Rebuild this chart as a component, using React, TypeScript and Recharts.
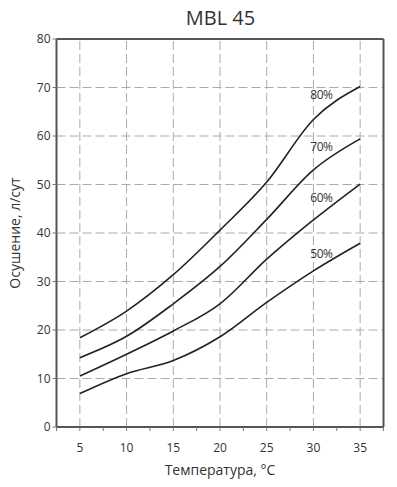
import { CartesianGrid, LabelList, Line, LineChart, ReferenceLine, XAxis, YAxis } from 'recharts'

const temps = [5, 10, 15, 20, 25, 30, 35]
const rh80 = [18.4, 23.9, 31.4, 40.6, 50.5, 63.4, 70.2]
const rh70 = [14.3, 18.7, 25.4, 33.1, 42.8, 53.0, 59.4]
const rh60 = [10.5, 15.0, 19.8, 25.4, 34.6, 42.7, 50.1]
const rh50 = [6.9, 11.0, 13.7, 18.6, 25.7, 32.2, 37.9]

const xTicks = [2.5, 5, 7.5, 10, 12.5, 15, 17.5, 20, 22.5, 25, 27.5, 30, 32.5, 35, 37.5]
const xMajor = [5, 10, 15, 20, 25, 30, 35]
const yTicks = [0, 10, 20, 30, 40, 50, 60, 70, 80]

const data = temps.map((t, i) => ({ t, rh80: rh80[i], rh70: rh70[i], rh60: rh60[i], rh50: rh50[i] }))

const series = [
  { key: 'rh80', label: '80%', dy: -25 },
  { key: 'rh70', label: '70%', dy: -23 },
  { key: 'rh60', label: '60%', dy: -22 },
  { key: 'rh50', label: '50%', dy: -17 },
]

const font = '"Open Sans", "Noto Sans", sans-serif'
const ink = '#333'
const gridColor = '#aaa'

function XTick({ x, y, payload }: any) {
  if (payload.value % 5 !== 0) return null
  return (
    <text x={x} y={y} dy="0.71em" textAnchor="middle" fontSize={12} fill={ink} fontFamily={font}>
      {payload.value}
    </text>
  )
}

function curveLabel(text: string, dy: number) {
  return (props: any) => {
    if (props.index !== 5) return null
    return (
      <text x={props.x + 8} y={props.y + dy} textAnchor="middle" dominantBaseline="central"
        fontSize={12} fill={ink} fontFamily={font} letterSpacing={-0.5}>
        {text}
      </text>
    )
  }
}

export default function App() {
  return (
    <div style={{ position: 'absolute', left: 0, top: 0, width: 397, height: 487, background: '#fff' }}>
      <div style={{ position: 'absolute', left: 0, top: 4, width: 441, textAlign: 'center', fontFamily: font, fontSize: 20, color: ink }}>
        MBL 45
      </div>
      <LineChart width={397} height={487} data={data} margin={{ top: 39, right: 13.5, bottom: 0, left: 0 }}>
        <CartesianGrid vertical={false} stroke={gridColor} strokeDasharray="9 4" />
        {xMajor.map((v) => (
          <ReferenceLine key={v} x={v} stroke={gridColor} strokeDasharray="9 4" />
        ))}
        <ReferenceLine y={80} stroke="#555" strokeWidth={2} />
        <ReferenceLine x={37.5} stroke="#555" strokeWidth={2} />
        <XAxis
          dataKey="t"
          type="number"
          domain={[2.5, 37.5]}
          ticks={xTicks}
          interval={0}
          height={60}
          tickSize={4}
          tickMargin={12}
          tick={<XTick />}
          axisLine={{ stroke: '#555', strokeWidth: 2 }}
          tickLine={{ stroke: '#777' }}
          label={{ value: 'Температура, °C', position: 'insideBottom', offset: 12, fill: ink, fontSize: 14, fontFamily: font }}
        />
        <YAxis
          type="number"
          domain={[0, 80]}
          ticks={yTicks}
          interval={0}
          width={56.5}
          tickSize={4}
          tickMargin={2}
          tick={{ fill: ink, fontSize: 12, fontFamily: font }}
          axisLine={{ stroke: '#555', strokeWidth: 2 }}
          tickLine={{ stroke: '#777' }}
          label={{ value: 'Осушение, л/сут', angle: -90, position: 'insideLeft', offset: 15, style: { textAnchor: 'middle' }, fill: ink, fontSize: 14, fontFamily: font }}
        />
        {series.map((s) => (
          <Line key={s.key} type="monotone" dataKey={s.key} stroke="#222" strokeWidth={1.6} dot={false} isAnimationActive={false}>
            <LabelList dataKey={s.key} content={curveLabel(s.label, s.dy)} />
          </Line>
        ))}
      </LineChart>
    </div>
  )
}
